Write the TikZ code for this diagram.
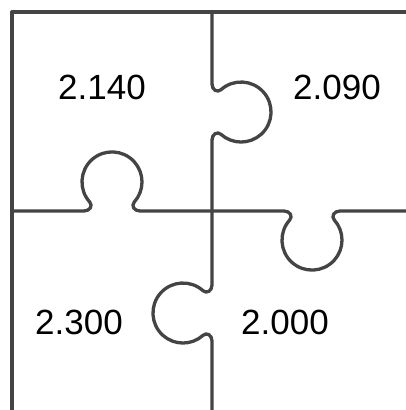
\documentclass[tikz,border=0pt]{standalone}
\usepackage{fontspec}
\setmainfont{Liberation Sans}
\definecolor{edgegray}{RGB}{68,68,68}
\begin{document}
\begin{tikzpicture}[x=1pt,y=1pt,every node/.style={font=\fontsize{35}{42}\selectfont,inner sep=0pt},
  cut/.style={draw=edgegray,line width=3.3pt,line join=round}]
\useasboundingbox (0,0) rectangle (406,410);
\clip (0,0) rectangle (406,410);
% outer frame
\draw[cut] (12,-5) -- (12,398) -- (412,398);
% horizontal cut, knob up and knob down
\draw[cut] (12,199) -- (84,199) .. controls (90,199) and (93,204.3) .. (89.7,208)
  arc[start angle=222,end angle=-42,radius=30]
  .. controls (131,204.3) and (134,199) .. (140,199) -- (284,199)
  .. controls (290,199) and (293,193.7) .. (289.7,190)
  arc[start angle=138,end angle=402,radius=30]
  .. controls (331,193.7) and (334,199) .. (340,199) -- (412,199);
% vertical cut, knob right and knob left
\draw[cut] (212,398) -- (212,326) .. controls (212,320) and (217.3,317) .. (221,320.3)
  arc[start angle=131.9,end angle=-131.9,radius=30]
  .. controls (217.3,279) and (212,276) .. (212,270) -- (212,125)
  .. controls (212,119) and (206.7,116) .. (203,119.3)
  arc[start angle=48.1,end angle=311.9,radius=30]
  .. controls (206.7,78) and (212,75) .. (212,69) -- (212,-5);
% values
\node (nw) at (102,323) {2.140};
\node (ne) at (337,323) {2.090};
\node (sw) at (79,88) {2.300};
\node (se) at (285,88) {2.000};
\end{tikzpicture}
\end{document}
